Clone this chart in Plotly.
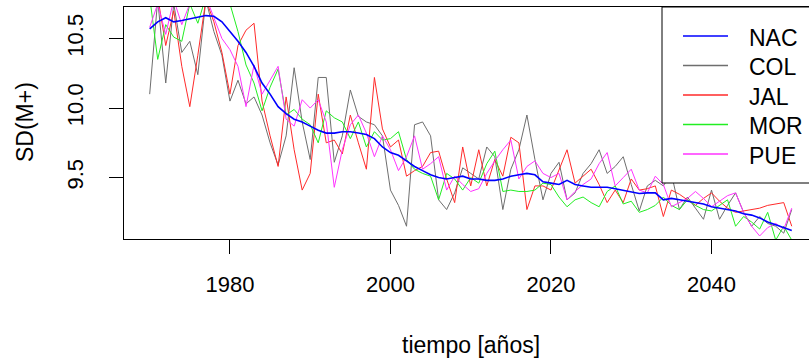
import plotly.graph_objects as go

years = list(range(1970, 2051))

NAC = [10.57, 10.62, 10.65, 10.62, 10.63, 10.64, 10.655, 10.665, 10.66, 10.62,
       10.55, 10.48, 10.40, 10.30, 10.18, 10.10, 10.01, 9.96, 9.92, 9.90,
       9.87, 9.84, 9.82, 9.82, 9.83, 9.83, 9.82, 9.81, 9.78, 9.72,
       9.68, 9.66, 9.62, 9.58, 9.55, 9.52, 9.50, 9.49, 9.50, 9.51,
       9.49, 9.49, 9.48, 9.48, 9.49, 9.51, 9.52, 9.53, 9.52, 9.47,
       9.46, 9.45, 9.48, 9.45, 9.44, 9.43, 9.43, 9.43, 9.42, 9.41,
       9.40, 9.385, 9.39, 9.39, 9.34, 9.35, 9.34, 9.33, 9.32, 9.31,
       9.29, 9.28, 9.27, 9.26, 9.24, 9.23, 9.21, 9.18, 9.16, 9.14,
       9.12]

COL = [10.10, 10.78, 10.18, 10.75, 10.40, 10.48, 10.24, 10.78, 10.55, 10.38,
       10.05, 10.20, 10.03, 10.08, 9.95, 9.75, 9.59, 9.80, 10.29, 9.90,
       9.63, 10.22, 10.22, 9.61, 9.80, 10.13, 9.94, 9.90, 9.88, 9.80,
       9.41, 9.30, 9.15, 9.88, 9.90, 9.80, 9.34, 9.27, 9.39, 9.57,
       9.53, 9.49, 9.72, 9.65, 9.27, 9.56, 9.70, 9.95, 9.63, 9.34,
       9.53, 9.61, 9.34, 9.39, 9.53, 9.60, 9.70, 9.53, 9.58, 9.65,
       9.45, 9.26, 9.44, 9.48, 9.44, 9.53, 9.27, 9.36, 9.28, 9.20,
       9.41, 9.20, 9.30, 9.39, 9.25, 9.15, 9.22, 9.17, 9.15, 9.10,
       9.27]

JAL = [10.78, 10.80, 10.45, 10.70, 10.30, 10.01, 10.38, 10.78, 10.62, 10.40,
       10.10, 10.45, 10.56, 10.61, 10.05, 9.80, 9.58, 10.08, 9.70, 9.41,
       9.53, 10.10, 9.75, 9.77, 9.67, 9.95, 9.75, 9.56, 10.22, 9.85,
       9.72, 9.77, 9.51, 9.55, 9.58, 9.68, 9.69, 9.49, 9.32, 9.72,
       9.44, 9.70, 9.44, 9.63, 9.51, 9.79, 9.75, 9.27, 9.44, 9.44,
       9.41, 9.56, 9.70, 9.46, 9.51, 9.56, 9.45, 9.32, 9.41, 9.32,
       9.49, 9.41, 9.42, 9.44, 9.22, 9.41, 9.38, 9.34, 9.30, 9.35,
       9.39, 9.33, 9.28, 9.25, 9.26, 9.27, 9.28, 9.30, 9.31, 9.32,
       9.15]

MOR = [10.80, 10.35, 10.60, 10.51, 10.48, 10.75, 10.61, 10.80, 10.78, 10.80,
       10.75, 10.55, 10.31, 10.18, 9.98, 10.15, 10.28, 9.95, 9.99, 9.92,
       9.88, 9.75, 9.98, 9.93, 9.90, 9.78, 9.90, 9.72, 9.83, 9.77,
       9.78, 9.83, 9.63, 9.56, 9.53, 9.51, 9.34, 9.53, 9.49, 9.41,
       9.50, 9.46, 9.60, 9.69, 9.40, 9.41, 9.40, 9.40, 9.41, 9.46,
       9.45, 9.36, 9.29, 9.34, 9.36, 9.32, 9.29, 9.40, 9.44, 9.31,
       9.33, 9.25, 9.27, 9.30, 9.36, 9.30, 9.27, 9.34, 9.30, 9.27,
       9.26, 9.30, 9.34, 9.15, 9.22, 9.18, 9.13, 9.25, 9.05, 9.15,
       9.05]

PUE = [10.58, 10.75, 10.53, 10.78, 10.60, 10.75, 10.80, 10.80, 10.65, 10.50,
       10.42, 10.30, 10.01, 10.31, 10.10, 10.20, 10.30, 9.92, 9.87, 10.06,
       10.00, 10.06, 9.90, 9.43, 9.70, 9.88, 9.95, 9.82, 9.65, 9.80,
       9.70, 9.55, 9.65, 9.80, 9.56, 9.60, 9.65, 9.41, 9.51, 9.45,
       9.40, 9.42, 9.53, 9.62, 9.70, 9.77, 9.49, 9.58, 9.62, 9.53,
       9.50, 9.53, 9.34, 9.40, 9.45, 9.49, 9.60, 9.68, 9.44, 9.50,
       9.56, 9.41, 9.39, 9.51, 9.45, 9.29, 9.32, 9.35, 9.40, 9.35,
       9.29, 9.33, 9.37, 9.39, 9.25, 9.15, 9.08, 9.14, 9.17, 9.13,
       9.28]

names = ["NAC", "COL", "JAL", "MOR", "PUE"]
colors = ["#0000FF", "#6E6E6E", "#FF2A2A", "#22EE22", "#FF33FF"]
series = [NAC, COL, JAL, MOR, PUE]
x_ticks = [1980, 2000, 2020, 2040]
y_ticks = [9.5, 10.0, 10.5]

FONT = "Liberation Sans, Arial, sans-serif"

ymin, ymax = min(NAC), max(NAC)
pad = 0.04 * (ymax - ymin)
yr = [ymin - pad, ymax + pad]

fig = go.Figure()
order = [1, 2, 3, 4, 0]
for i in order:
    fig.add_trace(go.Scatter(
        x=years, y=series[i], mode="lines", name=names[i],
        line=dict(color=colors[i], width=1.6 if i == 0 else 1),
        showlegend=False, hoverinfo="skip"))

W, H = 809, 362
L, R, T, B = 124, 0, 7, 123
pw, ph = W - L - R, H - T - B

def px(xp):
    return (xp - L) / pw

def py(yp):
    return (T + ph - yp) / ph

shapes = []
annotations = []
shapes.append(dict(type="rect", xref="paper", yref="paper",
                   x0=px(662), x1=px(830), y0=py(183), y1=py(7),
                   line=dict(color="black", width=1), fillcolor="white",
                   layer="above"))
row_y = [36, 65.5, 95, 124.5, 154]
for k in range(5):
    shapes.append(dict(type="line", xref="paper", yref="paper",
                       x0=px(683), x1=px(728), y0=py(row_y[k]), y1=py(row_y[k]),
                       line=dict(color=colors[k], width=1.5), layer="above"))
    annotations.append(dict(text=names[k], xref="paper", yref="paper",
                            x=px(747), y=py(row_y[k] + 1.5), xanchor="left",
                            yanchor="middle", showarrow=False,
                            font=dict(family=FONT, size=23, color="black")))

annotations.append(dict(text="tiempo [años]", xref="paper", yref="paper",
                        x=px(471), y=py(345), xanchor="center", yanchor="middle",
                        showarrow=False, font=dict(family=FONT, size=23, color="black")))
annotations.append(dict(text="SD(M+)", xref="paper", yref="paper",
                        x=px(25), y=py(122), xanchor="center", yanchor="middle",
                        textangle=-90, showarrow=False,
                        font=dict(family=FONT, size=23, color="black")))

fig.update_layout(
    width=W, height=H,
    margin=dict(l=L, r=R, t=T, b=B, autoexpand=False),
    paper_bgcolor="white", plot_bgcolor="white",
    showlegend=False,
    shapes=shapes, annotations=annotations,
    font=dict(family=FONT, size=22, color="black"),
    xaxis=dict(range=[1966.8, 1966.8 + pw / 8.026], tickvals=x_ticks,
               ticktext=[str(v) for v in x_ticks],
               showgrid=False, zeroline=False, showline=True, linecolor="black",
               linewidth=1, mirror=True, ticks="outside", ticklen=14,
               tickcolor="black", tickwidth=1, ticklabelstandoff=12,
               tickfont=dict(family=FONT, size=22, color="black")),
    yaxis=dict(range=yr, tickvals=y_ticks,
               ticktext=["9.5", "10.0", "10.5"], tickangle=-90,
               showgrid=False, zeroline=False, showline=True, linecolor="black",
               linewidth=1, mirror=False, ticks="outside", ticklen=14,
               tickcolor="black", tickwidth=1, ticklabelstandoff=17,
               tickfont=dict(family=FONT, size=22, color="black")),
)

fig.write_html("out.html", config={"displayModeBar": False},
               post_script="document.body.style.margin='0';document.body.style.padding='0';")
